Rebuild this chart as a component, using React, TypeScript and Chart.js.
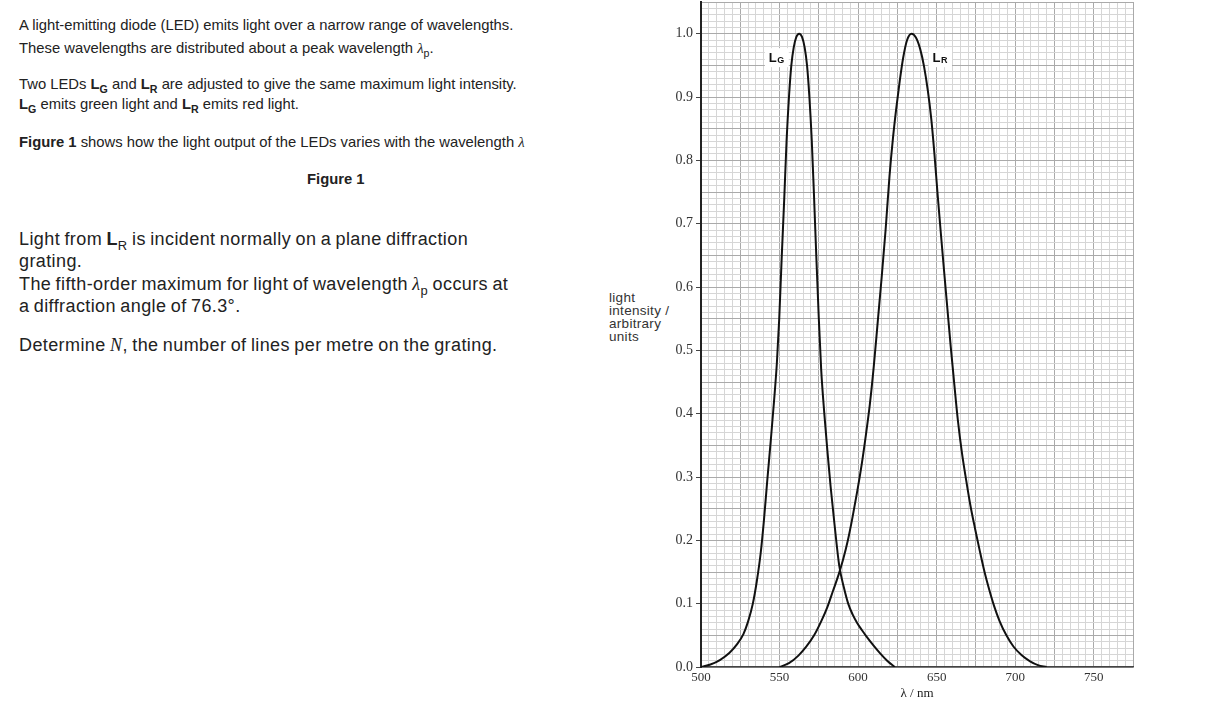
import React, { useEffect, useRef } from "react";
import { Chart, registerables } from "chart.js";

Chart.register(...registerables);

// ---- data ----
const lgWavelength = [500, 506, 512, 518, 523, 527, 530, 533, 535.5, 538, 540, 542.2, 544.5, 546.5, 548.3, 549.8, 551.3, 553, 554.5, 556, 557.5, 559, 560.7, 562.5, 564.3, 566, 567.5, 569, 570.5, 572, 573.5, 575, 576.5, 578.5, 580.5, 582.5, 585, 588, 591, 593.7, 596.5, 599.5, 602.5, 605.4, 609.5, 613.9, 618.5, 623.4];
const lgIntensity = [0, 0.004, 0.011, 0.022, 0.036, 0.052, 0.072, 0.1, 0.135, 0.18, 0.23, 0.295, 0.36, 0.42, 0.48, 0.55, 0.642, 0.74, 0.832, 0.9, 0.95, 0.978, 0.995, 1.0, 0.995, 0.978, 0.95, 0.9, 0.832, 0.74, 0.642, 0.55, 0.47, 0.4, 0.34, 0.285, 0.225, 0.16, 0.125, 0.1, 0.083, 0.069, 0.058, 0.048, 0.035, 0.022, 0.01, 0];

const lrWavelength = [550, 556, 562, 567, 572, 576.5, 580.5, 584, 587.5, 590.5, 593.5, 596.5, 599.5, 602.3, 605, 607.5, 610, 612.5, 615, 617.5, 620, 622.2, 624.3, 626.5, 628.7, 631.2, 634, 636.8, 639.5, 642, 644.4, 646.6, 648.6, 650.5, 652.5, 654.5, 656.7, 659, 661.3, 663.5, 666, 668.8, 671.5, 674.5, 677.5, 680.5, 683.5, 686.5, 690, 694.4, 699, 704, 709.5, 714.5, 720];
const lrIntensity = [0, 0.006, 0.018, 0.032, 0.05, 0.072, 0.095, 0.12, 0.145, 0.17, 0.2, 0.237, 0.278, 0.32, 0.367, 0.415, 0.475, 0.545, 0.615, 0.69, 0.775, 0.835, 0.882, 0.925, 0.962, 0.99, 1.0, 0.994, 0.976, 0.948, 0.91, 0.865, 0.81, 0.75, 0.69, 0.632, 0.57, 0.505, 0.445, 0.39, 0.34, 0.295, 0.255, 0.218, 0.183, 0.15, 0.122, 0.097, 0.073, 0.05, 0.032, 0.019, 0.009, 0.003, 0];

const xTickLabels = [500, 550, 600, 650, 700, 750];
const yTickLabels = [0, 0.1, 0.2, 0.3, 0.4, 0.5, 0.6, 0.7, 0.8, 0.9, 1.0];

const curveNames = ["L", "L"];
const curveSubs = ["G", "R"];
const curveLabelX = [543.2, 647.4];
const curveLabelY = [0.955, 0.955];

const SANS = "'Liberation Sans', Arial, sans-serif";
const SERIF = "'Liberation Serif', 'Times New Roman', serif";

const MAJOR = "#aaaaaa";
const MINOR = "#d6d6d6";

const curveLabelPlugin = {
  id: "curveLabels",
  afterDatasetsDraw(chart: any) {
    const { ctx, scales } = chart;
    ctx.save();
    for (let i = 0; i < curveNames.length; i++) {
      const px = scales.x.getPixelForValue(curveLabelX[i]);
      const py = scales.y.getPixelForValue(curveLabelY[i]);
      ctx.font = `bold 13px ${SANS}`;
      const w1 = ctx.measureText(curveNames[i]).width;
      ctx.font = `bold 9px ${SANS}`;
      const w2 = ctx.measureText(curveSubs[i]).width;
      ctx.fillStyle = "#ffffff";
      ctx.fillRect(px - 4, py - 14, w1 + w2 + 9, 19);
      ctx.fillStyle = "#111";
      ctx.textBaseline = "alphabetic";
      ctx.textAlign = "left";
      ctx.font = `bold 13px ${SANS}`;
      ctx.fillText(curveNames[i], px, py);
      ctx.font = `bold 9px ${SANS}`;
      ctx.fillText(curveSubs[i], px + w1 + 0.5, py + 1);
    }
    ctx.restore();
  },
};

function LedChart() {
  const ref = useRef<HTMLCanvasElement | null>(null);
  useEffect(() => {
    if (!ref.current) return;
    const chart = new Chart(ref.current, {
      type: "line",
      data: {
        datasets: [
          {
            label: "LG",
            data: lgWavelength.map((x, i) => ({ x, y: lgIntensity[i] })),
            borderColor: "#111",
            borderWidth: 2,
            pointRadius: 0,
            cubicInterpolationMode: "monotone",
            fill: false,
          },
          {
            label: "LR",
            data: lrWavelength.map((x, i) => ({ x, y: lrIntensity[i] })),
            borderColor: "#111",
            borderWidth: 2,
            pointRadius: 0,
            cubicInterpolationMode: "monotone",
            fill: false,
          },
        ],
      },
      options: {
        animation: false,
        responsive: true,
        maintainAspectRatio: false,
        layout: { padding: { top: 2, right: 2, left: 0, bottom: 0 } },
        plugins: { legend: { display: false }, tooltip: { enabled: false } },
        scales: {
          x: {
            type: "linear",
            min: 500,
            max: 775,
            afterFit: (s: any) => {
              s.height = 34;
              s.paddingLeft = 0;
              s.paddingRight = 0;
            },
            ticks: {
              stepSize: 5,
              autoSkip: false,
              maxRotation: 0,
              padding: 3,
              color: "#333",
              font: { family: SERIF, size: 13 },
              callback: (v: any) => (xTickLabels.includes(Math.round(Number(v))) ? String(Math.round(Number(v))) : ""),
            },
            grid: {
              drawTicks: false,
              lineWidth: 1,
              color: (c: any) => (Math.round(c.tick.value) % 25 === 0 ? MAJOR : MINOR),
            },
            border: { display: true, color: "#444", width: 1.5 },
            title: {
              display: true,
              text: "λ / nm",
              color: "#222",
              font: { family: SERIF, size: 13 },
              padding: { top: 0, bottom: 0 },
            },
          },
          y: {
            type: "linear",
            min: 0,
            max: 1.05,
            afterFit: (s: any) => {
              s.width = 101;
              s.paddingTop = 0;
              s.paddingBottom = 0;
            },
            ticks: {
              stepSize: 0.01,
              autoSkip: false,
              padding: 3,
              color: "#333",
              font: { family: SERIF, size: 14 },
              callback: (v: any) => {
                const n = Number(v);
                const hit = yTickLabels.find((t) => Math.abs(t - n) < 1e-6);
                return hit === undefined ? "" : hit.toFixed(1);
              },
            },
            grid: {
              drawTicks: true,
              tickLength: 5,
              lineWidth: 1,
              color: (c: any) => (Math.round(c.tick.value * 100) % 5 === 0 ? MAJOR : MINOR),
              tickColor: (c: any) =>
                yTickLabels.some((t) => Math.abs(t - c.tick.value) < 1e-6) ? "#444" : "rgba(0,0,0,0)",
            },
            border: { display: true, color: "#222", width: 2 },
          },
        },
      },
      plugins: [curveLabelPlugin],
    } as any);
    return () => chart.destroy();
  }, []);
  return <canvas ref={ref} />;
}

const lineStyle = (top: number, left: number, size: number, extra: any = {}) => ({
  position: "absolute" as const,
  top,
  left,
  fontFamily: SANS,
  fontSize: size,
  lineHeight: `${Math.round(size * 1.2)}px`,
  whiteSpace: "nowrap" as const,
  color: "#222",
  ...extra,
});

const B1 = 14.8;
const B2 = { letterSpacing: "0.4px", wordSpacing: "-1px" };
const subStyle = { fontSize: "0.72em", verticalAlign: "-0.4em", lineHeight: 0 };
const greek = { fontFamily: SERIF, fontStyle: "italic" as const };

export default function App() {
  return (
    <div style={{ position: "absolute", left: 0, top: 0, width: 1226, height: 709, background: "#fff", overflow: "hidden" }}>
      <div style={lineStyle(16, 19, B1)}>A light-emitting diode (LED) emits light over a narrow range of wavelengths.</div>
      <div style={lineStyle(39, 19, B1)}>
        These wavelengths are distributed about a peak wavelength <span style={greek}>λ</span>
        <sub style={subStyle}>p</sub>.
      </div>
      <div style={lineStyle(75, 19, B1)}>
        Two LEDs <b>L<sub style={subStyle}>G</sub></b> and <b>L<sub style={subStyle}>R</sub></b> are adjusted to give the same maximum light intensity.
      </div>
      <div style={lineStyle(95, 19, B1)}>
        <b>L<sub style={subStyle}>G</sub></b> emits green light and <b>L<sub style={subStyle}>R</sub></b> emits red light.
      </div>
      <div style={lineStyle(133, 19, B1, { width: 508, overflow: "hidden" })}>
        <b>Figure 1</b> shows how the light output of the LEDs varies with the wavelength <span style={greek}>λ</span>
      </div>
      <div style={lineStyle(170, 307, B1)}>
        <b>Figure 1</b>
      </div>

      <div style={lineStyle(228, 19, 18, B2)}>
        Light from <b>L</b>
        <sub style={subStyle}>R</sub> is incident normally on a plane diffraction
      </div>
      <div style={lineStyle(250, 19, 18, B2)}>grating.</div>
      <div style={lineStyle(273, 19, 18, B2)}>
        The fifth-order maximum for light of wavelength <span style={greek}>λ</span>
        <sub style={subStyle}>p</sub> occurs at
      </div>
      <div style={lineStyle(295, 19, 18, B2)}>a diffraction angle of 76.3°.</div>
      <div style={lineStyle(334, 19, 18, B2)}>
        Determine <span style={{ fontFamily: SERIF, fontStyle: "italic" }}>N</span>, the number of lines per metre on the grating.
      </div>

      <div style={lineStyle(291, 609, 13.5, { lineHeight: "13px", color: "#333", letterSpacing: "0.3px" })}>
        light
        <br />
        intensity /
        <br />
        arbitrary
        <br />
        units
      </div>

      <div style={{ position: "absolute", left: 600, top: 0, width: 535, height: 701 }}>
        <LedChart />
      </div>
    </div>
  );
}
